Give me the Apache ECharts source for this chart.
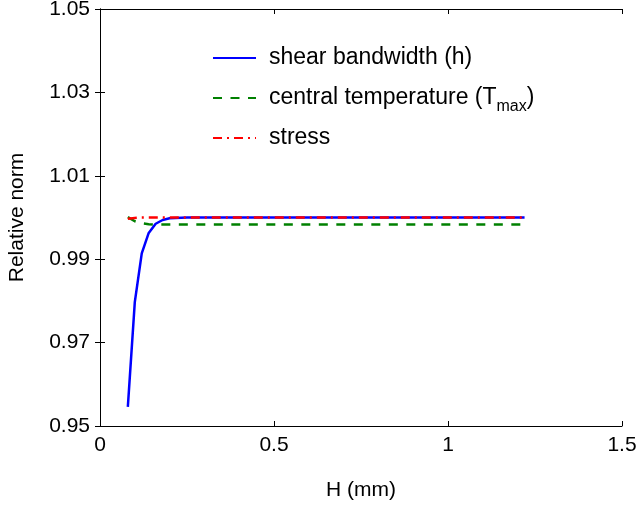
<!DOCTYPE html>
<html>
<head>
<meta charset="utf-8">
<script src="https://cdn.jsdelivr.net/npm/echarts@6/dist/echarts.min.js"></script>
<style>
  html, body { margin: 0; padding: 0; background: #fff; }
  #main { width: 638px; height: 507px; }
</style>
</head>
<body>
<div id="main"></div>
<script>
// H (mm) sample points
const H = [0.08, 0.10, 0.12, 0.14, 0.16, 0.18, 0.20, 0.25, 0.30, 0.40, 0.50, 0.60, 0.70, 0.80, 0.90, 1.00, 1.10, 1.22]
// relative norms
const bandwidth = [0.9546, 0.9797, 0.9914, 0.9963, 0.9985, 0.9994, 0.9998, 1.0000, 1.0000, 1.0000, 1.0000, 1.0000, 1.0000, 1.0000, 1.0000, 1.0000, 1.0000, 1.0000]
const tempMax = [1.0001, 0.9991, 0.9986, 0.9984, 0.9983, 0.9983, 0.9983, 0.9983, 0.9983, 0.9983, 0.9983, 0.9983, 0.9983, 0.9983, 0.9983, 0.9983, 0.9983, 0.9983]
const stress = [0.9997, 0.9999, 1.0000, 1.0000, 1.0000, 1.0000, 1.0000, 1.0000, 1.0000, 1.0000, 1.0000, 1.0000, 1.0000, 1.0000, 1.0000, 1.0000, 1.0000, 1.0000]

const yTicks = [0.95, 0.97, 0.99, 1.01, 1.03, 1.05]
const xTicks = [0, 0.5, 1, 1.5]

const FONT = 'Liberation Sans, Arial, sans-serif'

function pairs(ys) {
  return H.map((h, i) => [h, ys[i]])
}

const chart = echarts.init(document.getElementById('main'), null, { renderer: 'canvas' })

const boxAxis = {
  show: true,
  axisLine: { show: true, lineStyle: { color: '#000', width: 1 } },
  axisTick: { show: true, inside: true, length: 5, lineStyle: { color: '#000' } },
  axisLabel: { show: false },
  splitLine: { show: false }
}

const option = {
  backgroundColor: '#fff',
  animation: false,
  grid: { left: 100, right: 16, top: 9, bottom: 81, containLabel: false, outerBoundsMode: 'none' },
  legend: {
    orient: 'vertical',
    left: 212,
    top: 45,
    padding: 0,
    itemWidth: 43,
    itemHeight: 14,
    itemGap: 10,
    itemStyle: { opacity: 0 },
    textStyle: {
      fontFamily: FONT,
      fontSize: 23,
      color: '#000',
      lineHeight: 26,
      padding: [0, 0, 0, 8],
      rich: {
        a: { fontFamily: FONT, fontSize: 23, color: '#000', lineHeight: 34 },
        sub: { fontFamily: FONT, fontSize: 16, color: '#000', lineHeight: 18, verticalAlign: 'bottom' }
      }
    },
    formatter: function (name) {
      if (name === 'central temperature (Tmax)') {
        return '{a|central temperature (T}{sub|max}{a|)}'
      }
      return name
    },
    data: ['shear bandwidth (h)', 'central temperature (Tmax)', 'stress']
  },
  xAxis: [
    {
      type: 'value',
      min: 0,
      max: 1.5,
      interval: 0.5,
      name: 'H (mm)',
      nameLocation: 'middle',
      nameGap: 54,
      nameTextStyle: { fontFamily: FONT, fontSize: 21, color: '#000' },
      axisLine: { show: true, onZero: false, lineStyle: { color: '#000', width: 1 } },
      axisTick: { show: true, inside: true, length: 5, lineStyle: { color: '#000' } },
      axisLabel: { show: true, margin: 9, fontFamily: FONT, fontSize: 21, color: '#000',
        customValues: xTicks },
      splitLine: { show: false }
    },
    Object.assign({ type: 'value', position: 'top', min: 0, max: 1.5, interval: 0.5 }, boxAxis)
  ],
  yAxis: [
    {
      type: 'value',
      min: 0.95,
      max: 1.05,
      name: 'Relative norm',
      nameLocation: 'middle',
      nameGap: 72,
      nameTextStyle: { fontFamily: FONT, fontSize: 21, color: '#000' },
      axisLine: { show: true, onZero: false, lineStyle: { color: '#000', width: 1 } },
      axisTick: { show: true, inside: true, length: 5, lineStyle: { color: '#000' }, customValues: yTicks },
      axisLabel: { show: true, margin: 10, fontFamily: FONT, fontSize: 21, color: '#000',
        customValues: yTicks,
        formatter: v => v.toFixed(2) },
      splitLine: { show: false }
    },
    Object.assign({ type: 'value', position: 'right', min: 0.95, max: 1.05 }, boxAxis,
      { axisTick: { show: true, inside: true, length: 5, lineStyle: { color: '#000' }, customValues: yTicks } })
  ],
  series: [
    {
      name: 'shear bandwidth (h)',
      type: 'line',
      symbol: 'none',
      color: '#0000ff',
      lineStyle: { color: '#0000ff', width: 2.5 },
      data: pairs(bandwidth)
    },
    {
      name: 'central temperature (Tmax)',
      type: 'line',
      symbol: 'none',
      color: '#008000',
      lineStyle: { color: '#008000', width: 2.5, type: [9, 8.5] },
      data: pairs(tempMax)
    },
    {
      name: 'stress',
      type: 'line',
      symbol: 'none',
      color: '#ff0000',
      lineStyle: { color: '#ff0000', width: 2.5, type: [9, 5, 2, 5] },
      data: pairs(stress)
    }
  ]
}

chart.setOption(option)
</script>
</body>
</html>
